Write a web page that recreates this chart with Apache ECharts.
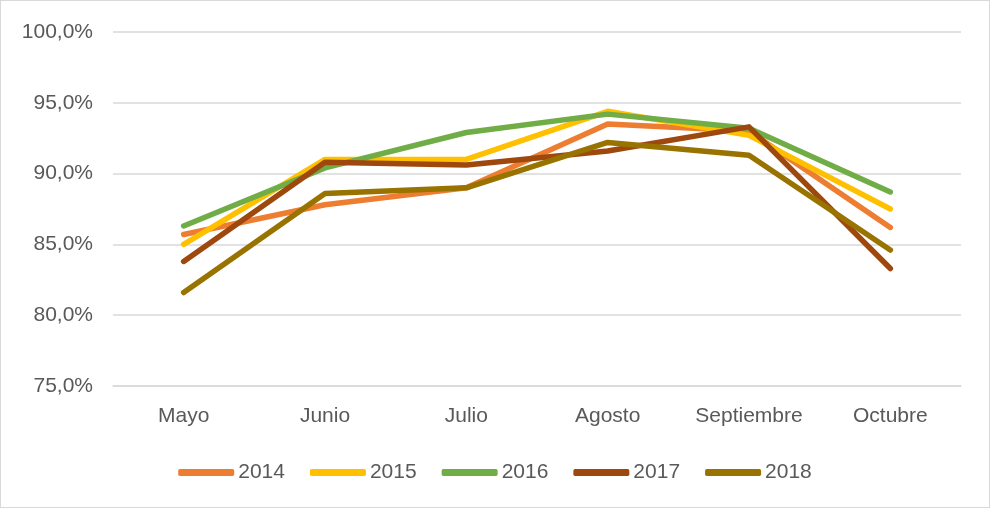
<!DOCTYPE html>
<html>
<head>
<meta charset="utf-8">
<script src="https://cdn.jsdelivr.net/npm/echarts@6/dist/echarts.min.js"></script>
<style>
  html, body { margin: 0; padding: 0; background: #fff; }
  #report { width: 990px; height: 508px; box-sizing: border-box; border: 1px solid #d9d9d9; }
</style>
</head>
<body>
<div id="report"></div>
<script>
// meses
var months = ['Mayo', 'Junio', 'Julio', 'Agosto', 'Septiembre', 'Octubre'];
// porcentajes por año
var y2014 = [85.7, 87.8, 89.0, 93.5, 93.0, 86.2];
var y2015 = [85.0, 91.0, 91.0, 94.4, 92.7, 87.5];
var y2016 = [86.3, 90.4, 92.9, 94.2, 93.2, 88.7];
var y2017 = [83.8, 90.8, 90.6, 91.6, 93.3, 83.3];
var y2018 = [81.6, 88.6, 89.0, 92.2, 91.3, 84.6];
var years = ['2014', '2015', '2016', '2017', '2018'];
var colors = ['#ED7D31', '#FFC000', '#70AD47', '#9E480E', '#997300'];

var font = '"Liberation Sans", Arial, sans-serif';
var myChart = echarts.init(document.getElementById('report'));

function line(name, data, color) {
    return {
        name: name,
        type: 'line',
        data: data,
        symbol: 'none',
        color: color,
        lineStyle: { width: 5.5, color: color, cap: 'round', join: 'round' }
    };
}

var option = {
    animation: false,
    textStyle: { fontFamily: font },
    grid: { left: 112, right: 28, top: 31, bottom: 121 },
    legend: {
        left: 'center',
        top: 456,
        icon: 'roundRect',
        itemWidth: 56,
        itemHeight: 7,
        itemGap: 25,
        textStyle: { fontSize: 21, color: '#595959', fontFamily: font, padding: [0, 0, 0, -1] },
        data: years
    },
    xAxis: {
        type: 'category',
        data: months,
        axisTick: { show: false },
        axisLine: { lineStyle: { color: '#d9d9d9', width: 1.5 } },
        axisLabel: { fontSize: 21, color: '#595959', margin: 20 }
    },
    yAxis: {
        type: 'value',
        min: 75,
        max: 100,
        interval: 5,
        axisLine: { show: false },
        axisTick: { show: false },
        splitLine: { lineStyle: { color: '#d9d9d9', width: 1.5 } },
        axisLabel: {
            fontSize: 21,
            color: '#595959',
            margin: 20,
            formatter: function (v) { return v.toFixed(1).replace('.', ',') + '%'; }
        }
    },
    series: [
        line(years[0], y2014, colors[0]),
        line(years[1], y2015, colors[1]),
        line(years[2], y2016, colors[2]),
        line(years[3], y2017, colors[3]),
        line(years[4], y2018, colors[4])
    ]
};
myChart.setOption(option);
</script>
</body>
</html>
